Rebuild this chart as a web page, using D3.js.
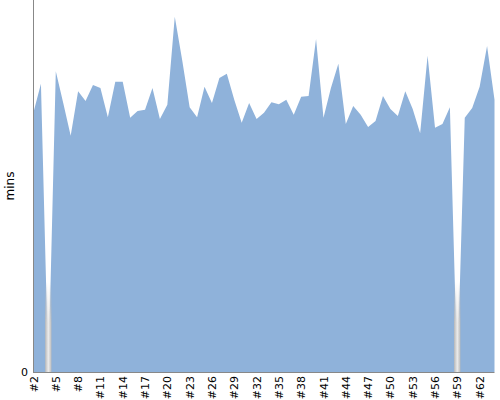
<!DOCTYPE html>
<html><head><meta charset="utf-8">
<script src="https://cdn.jsdelivr.net/npm/d3@7"></script>
<style>body{margin:0;background:#fff}svg{display:block}text{font-family:"DejaVu Sans",sans-serif}</style>
</head><body><svg id="c" width="500" height="400"></svg>
<script>
const categories = d3.range(2, 65).map(i => "#" + i);
const minutes = [41.9,46.5,0,48.5,43.4,38.1,45.3,43.7,46.3,45.8,41.1,46.8,46.8,41.0,42.1,42.3,45.8,40.8,43.1,57.3,
50.3,42.7,41.1,46.0,43.4,47.4,48.1,43.9,40.2,43.4,40.8,41.8,43.5,43.2,43.9,41.5,44.4,44.5,53.7,41.0,
45.8,49.7,40.0,42.9,41.5,39.5,40.5,44.5,42.4,41.3,45.3,42.4,38.5,51.0,39.4,40.0,42.7,0,41.0,42.6,
46.0,52.6,43.9];
const tickLabels = categories.filter((d, i) => i % 3 === 0);
const yTicks = [0];

const svg = d3.select("#c");
const x = d3.scalePoint().domain(categories).range([33.5, 494.5]);
const y = d3.scaleLinear().domain([0, 60]).range([372, 0]);

const defs = svg.append("defs");
const g = defs.append("linearGradient").attr("id","gap").attr("x1","0").attr("x2","1").attr("y1","0").attr("y2","0");
g.append("stop").attr("offset","0%").attr("stop-color","#b8b8b8");
g.append("stop").attr("offset","50%").attr("stop-color","#ebebeb");
g.append("stop").attr("offset","100%").attr("stop-color","#b8b8b8");
const gv = defs.append("linearGradient").attr("id","fade").attr("x1","0").attr("x2","0").attr("y1","0").attr("y2","1");
gv.append("stop").attr("offset","0%").attr("stop-color","#fff").attr("stop-opacity",0);
gv.append("stop").attr("offset","45%").attr("stop-color","#fff").attr("stop-opacity",1);
gv.append("stop").attr("offset","100%").attr("stop-color","#fff").attr("stop-opacity",1);

const data = categories.map((c, i) => ({c, v: minutes[i]}));

const area = d3.area().x(d => x(d.c)).y0(y(0)).y1(d => y(d.v));
svg.append("path").datum(data).attr("d", area).attr("fill", "#8fb2da");

// gap markers for zero values
const zeros = data.filter(d => d.v === 0);
const H = 90;
zeros.forEach((d, i) => {
  const m = defs.append("mask").attr("id", "m" + i).attr("maskUnits", "userSpaceOnUse")
    .attr("x", 0).attr("y", 0).attr("width", 500).attr("height", 400);
  m.append("rect").attr("x", x(d.c) - 3.3).attr("width", 6.6)
    .attr("y", y(0) - H).attr("height", H).attr("fill", "url(#fade)");
});
svg.selectAll("rect.gap").data(zeros).enter().append("rect")
  .attr("x", d => x(d.c) - 3.3).attr("width", 6.6)
  .attr("y", y(0) - H).attr("height", H).attr("fill", "url(#gap)")
  .attr("mask", (d, i) => `url(#m${i})`);

const xAxis = svg.append("g").attr("transform", `translate(0,${y(0)})`)
  .call(d3.axisBottom(x).tickValues(tickLabels).tickSize(0).tickPadding(4));
xAxis.select(".domain").attr("stroke", "#888").attr("d", `M33,0.5H494.5`);
xAxis.selectAll("text").attr("transform","rotate(-90)").attr("text-anchor","end")
  .attr("dx",0).attr("dy","0.32em").attr("y",0).attr("x",-4)
  .attr("font-size", 11).attr("fill", "#000");

const yAxis = svg.append("g").attr("transform", "translate(33,0)")
  .call(d3.axisLeft(y).tickValues(yTicks).tickSize(0).tickPadding(5));
yAxis.select(".domain").attr("stroke", "#888").attr("d", "M0.5,0V372");
yAxis.selectAll("text").attr("font-size", 11).attr("fill", "#000");

svg.append("text").attr("transform", "translate(14,186) rotate(-90)")
  .attr("text-anchor", "middle").attr("font-size", 12).text("mins");
</script></body></html>
